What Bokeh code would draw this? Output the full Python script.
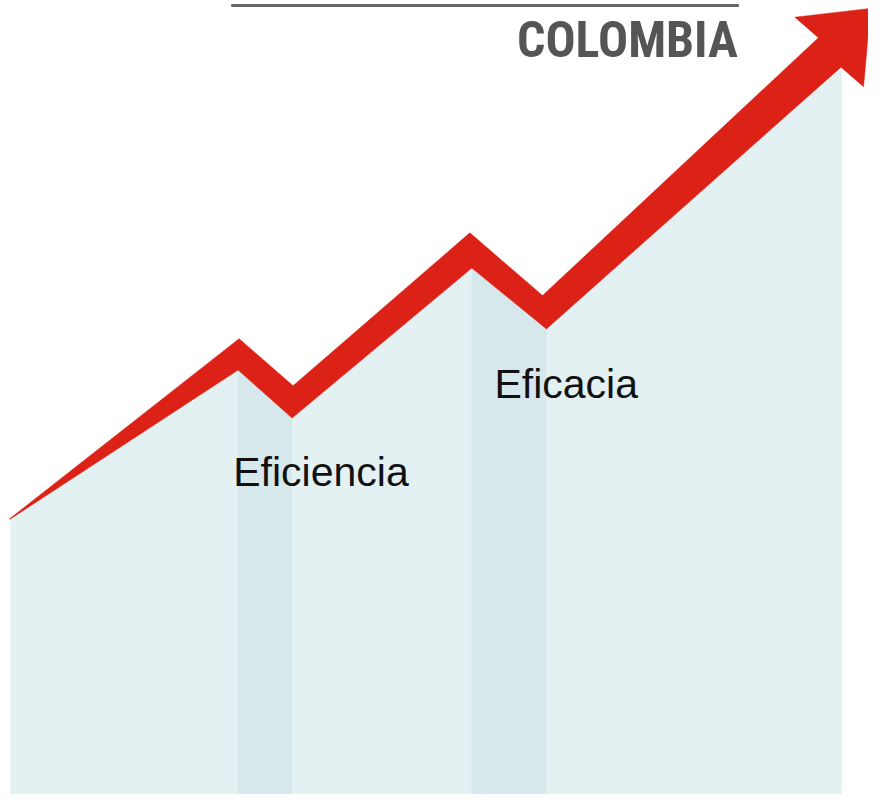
from bokeh.plotting import figure
from bokeh.models import Range1d
from bokeh.core.properties import value
from bokeh.embed import file_html
from bokeh.resources import INLINE

# ---- data (coordinates) ----
# lower edge of the red arrow = top of the light area
level_x = [10, 242, 297, 480, 556, 857]
level_y = [529, 377, 426, 273, 335, 68]
# upper edge of the red arrow
top_x = [9, 243, 298, 478, 552, 833]
top_y = [529, 345, 393, 237, 301, 38]
# arrow head: outer barb, tip, right barb, inner notch
head_x = [809, 886, 879, 856]
head_y = [17, 8, 88, 68]
# highlighted bands (start index, end index into level arrays)
bands = [(1, 2), (3, 4)]
labels = ["Eficiencia", "Eficacia"]
label_x = [237, 503]
label_y = [481, 391]
title = "COLOMBIA"
rule_x = [235, 752]
rule_y = [5, 5]

W, H = 868, 794
REF_W, REF_H = 884, 810
BOTTOM = 812

p = figure(width=W, height=H, output_backend="svg", toolbar_location=None,
           x_range=Range1d(0, REF_W), y_range=Range1d(REF_H, 0),
           min_border=0, background_fill_color="white", border_fill_color="white")
p.axis.visible = False
p.grid.visible = False
p.outline_line_color = None

# light area
fx = level_x + [level_x[-1], level_x[0]]
fy = level_y + [BOTTOM, BOTTOM]
p.patch(fx, fy, fill_color="#E4F1F3", line_color=None)

# darker bands
for a, b in bands:
    bx = [level_x[a], level_x[b], level_x[b], level_x[a]]
    by = [level_y[a], level_y[b], BOTTOM, BOTTOM]
    p.patch(bx, by, fill_color="#D6E8EC", line_color=None)

# red arrow: upper edge, head, then lower edge back to the start
rx = top_x + head_x + level_x[-2::-1]
ry = top_y + head_y + level_y[-2::-1]
p.patch(rx, ry, fill_color="#DC2117", line_color="#DC2117", line_width=0.5)

# labels
p.text(x=label_x, y=label_y, text=labels, text_font=value("'Liberation Sans', Arial, sans-serif"),
       text_font_size="41px", text_color="#111111", text_baseline="alphabetic", text_align="left")

# title and rule
p.line(x=rule_x, y=rule_y, line_color="#666666", line_width=3)
p.text(x=[751], y=[40], text=[title],
       text_font=value("'Roboto Condensed', 'Liberation Sans Narrow', 'DejaVu Sans Condensed', sans-serif"),
       text_font_style="bold", text_font_size="50px", text_color="#555555",
       text_baseline="alphabetic", text_align="right")

open("out.html", "w").write(file_html(p, INLINE))
